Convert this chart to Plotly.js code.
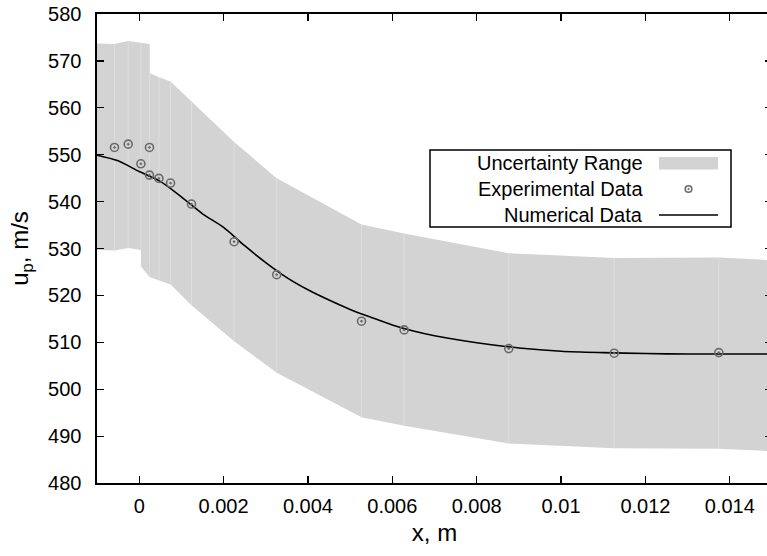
<!DOCTYPE html>
<html>
<head>
<meta charset="utf-8">
<script src="https://cdn.plot.ly/plotly-3.0.1.min.js"></script>
<style>
  html, body { margin: 0; padding: 0; overflow: hidden; background: #fff; }
  #chart { width: 772px; height: 556px; }
</style>
</head>
<body>
<div id="chart"></div>
<script>
const expX = [-0.000586, -0.00026, 0.00004, 0.000244, 0.000244, 0.000467, 0.000743, 0.00124,
              0.00225, 0.00326, 0.00527, 0.00628, 0.00876, 0.01126, 0.01374];
const expY = [551.55, 552.25, 548.06, 551.55, 545.65, 544.95, 543.95, 539.48,
              531.45, 524.42, 514.5, 512.64, 508.66, 507.68, 507.8];

// ---- Numerical data ----
const numX = [-0.001, -0.0005, 0.0, 0.0005, 0.001, 0.0015, 0.002, 0.0025, 0.003, 0.0035,
              0.004, 0.0045, 0.005, 0.0055, 0.006, 0.0065, 0.007, 0.008, 0.009, 0.010,
              0.011, 0.012, 0.013, 0.014, 0.015];
const numY = [549.9, 548.7, 546.4, 544.3, 541.0, 537.4, 534.5, 530.6, 527.0, 523.8,
              521.2, 519.0, 517.0, 515.3, 513.7, 512.4, 511.4, 509.9, 508.8, 508.1,
              507.8, 507.6, 507.5, 507.5, 507.5];

// ---- Uncertainty range envelope ----
const bandUpperX = [-0.001, -0.000586, -0.00026, 0.000244, 0.000244, 0.000467, 0.000743, 0.00124,
                    0.00225, 0.00326, 0.00527, 0.00628, 0.00876, 0.01126, 0.01374, 0.015];
const bandUpperY = [573.7, 573.6, 574.25, 573.6, 567.4, 566.5, 565.6, 561.3,
                    552.7, 545.0, 535.1, 533.2, 529.0, 528.0, 528.1, 527.5];
const bandLowerX = [-0.001, -0.000586, -0.00026, 0.00004, 0.00004, 0.000244, 0.000467, 0.000743, 0.00124,
                    0.00225, 0.00326, 0.00527, 0.00628, 0.00876, 0.01126, 0.01374, 0.015];
const bandLowerY = [529.7, 529.55, 530.1, 529.7, 526.2, 523.9, 523.2, 522.3, 517.9,
                    510.2, 503.5, 494.0, 492.2, 488.4, 487.4, 487.3, 486.8];

const xTickVals = [0, 0.002, 0.004, 0.006, 0.008, 0.01, 0.012, 0.014];
const xTickText = ['0', '0.002', '0.004', '0.006', '0.008', '0.01', '0.012', '0.014'];
const yTickVals = [480, 490, 500, 510, 520, 530, 540, 550, 560, 570, 580];

const legendLabels = ['Uncertainty Range', 'Experimental Data', 'Numerical Data'];

// ---- build band polygon ----
const polyX = bandUpperX.concat(bandLowerX.slice().reverse());
const polyY = bandUpperY.concat(bandLowerY.slice().reverse());

function interp(xs, ys, x) {
  for (let i = 0; i < xs.length - 1; i++) {
    if (x >= xs[i] && x <= xs[i + 1] && xs[i + 1] !== xs[i]) {
      return ys[i] + (ys[i + 1] - ys[i]) * (x - xs[i]) / (xs[i + 1] - xs[i]);
    }
  }
  return ys[ys.length - 1];
}
// faint seams in the band at each measured station
const seamX = [], seamY = [];
expX.forEach(function (x) {
  seamX.push(x, x, null);
  seamY.push(interp(bandLowerX, bandLowerY, x), interp(bandUpperX, bandUpperY, x), null);
});

const FONT = 'Liberation Sans, Arial, Helvetica, sans-serif';

const traces = [
  { x: polyX, y: polyY, type: 'scatter', mode: 'lines', fill: 'toself',
    fillcolor: '#d3d3d3', line: { width: 0, color: '#d3d3d3' }, hoverinfo: 'skip', showlegend: false },
  { x: seamX, y: seamY, type: 'scatter', mode: 'lines',
    line: { width: 1, color: '#dedede' }, hoverinfo: 'skip', showlegend: false },
  { x: numX, y: numY, type: 'scatter', mode: 'lines',
    line: { color: '#000', width: 1.6, shape: 'spline', smoothing: 0.8 },
    showlegend: false },
  { x: expX, y: expY, type: 'scatter', mode: 'markers',
    marker: { symbol: 'circle-open-dot', size: 8, color: '#6a6a6a', line: { width: 1.6, color: '#6a6a6a' } },
    showlegend: false }
];

// pixel -> paper helpers (plot area 97..772 x, 14..483 y)
const L = 97, R = 772, T = 14, B = 483;
function px(x) { return (x - L) / (R - L); }
function py(y) { return (B - y) / (B - T); }

const rowY = [163, 189, 215];
const shapes = [
  { type: 'rect', xref: 'paper', yref: 'paper', x0: px(430), x1: px(731), y0: py(227), y1: py(150),
    line: { color: '#000', width: 1.5 }, fillcolor: '#fff' },
  { type: 'rect', xref: 'paper', yref: 'paper', x0: px(659), x1: px(718), y0: py(169.5), y1: py(157),
    line: { width: 0 }, fillcolor: '#d3d3d3' },
  { type: 'line', xref: 'paper', yref: 'paper', x0: px(659), x1: px(718), y0: py(rowY[2]), y1: py(rowY[2]),
    line: { color: '#000', width: 1.6 } },
  { type: 'circle', xref: 'paper', yref: 'paper', xsizemode: 'pixel', ysizemode: 'pixel',
    xanchor: px(688.5), yanchor: py(rowY[1]), x0: -3.3, x1: 3.3, y0: -3.3, y1: 3.3,
    line: { color: '#6a6a6a', width: 1.6 } },
  { type: 'circle', xref: 'paper', yref: 'paper', xsizemode: 'pixel', ysizemode: 'pixel',
    xanchor: px(688.5), yanchor: py(rowY[1]), x0: -0.7, x1: 0.7, y0: -0.7, y1: 0.7,
    line: { color: '#6a6a6a', width: 1 }, fillcolor: '#6a6a6a' }
];

const annotations = legendLabels.map(function (t, i) {
  return { text: t, xref: 'paper', yref: 'paper', x: px(645), y: py(rowY[i]),
    xanchor: 'right', yanchor: 'middle', showarrow: false,
    font: { family: FONT, size: 20, color: '#000' } };
});

const layout = {
  width: 772, height: 556,
  margin: { l: 97, r: 0, t: 14, b: 73 },
  paper_bgcolor: '#fff', plot_bgcolor: '#fff',
  font: { family: FONT, size: 20, color: '#000' },
  showlegend: false,
  xaxis: {
    range: [-0.001, 0.015], tickvals: xTickVals, ticktext: xTickText,
    ticks: 'inside', ticklen: 7, tickwidth: 1.2, tickcolor: '#000',
    showline: true, linecolor: '#000', linewidth: 1.6, mirror: 'ticks',
    showgrid: false, zeroline: false, ticklabelstandoff: 4,
    tickfont: { family: FONT, size: 20, color: '#000' },
    title: { text: 'x, m', font: { family: FONT, size: 24, color: '#000' }, standoff: 8 }
  },
  yaxis: {
    range: [480, 580], tickvals: yTickVals,
    ticks: 'inside', ticklen: 7, tickwidth: 1.2, tickcolor: '#000',
    showline: true, linecolor: '#000', linewidth: 1.6, mirror: 'ticks',
    showgrid: false, zeroline: false, ticklabelstandoff: 10,
    tickfont: { family: FONT, size: 20, color: '#000' },
    title: { text: 'u<sub>p</sub>, m/s', font: { family: FONT, size: 24, color: '#000' }, standoff: 12 }
  },
  shapes: shapes,
  annotations: annotations
};

Plotly.newPlot('chart', traces, layout, { staticPlot: true, displayModeBar: false });
</script>
</body>
</html>
